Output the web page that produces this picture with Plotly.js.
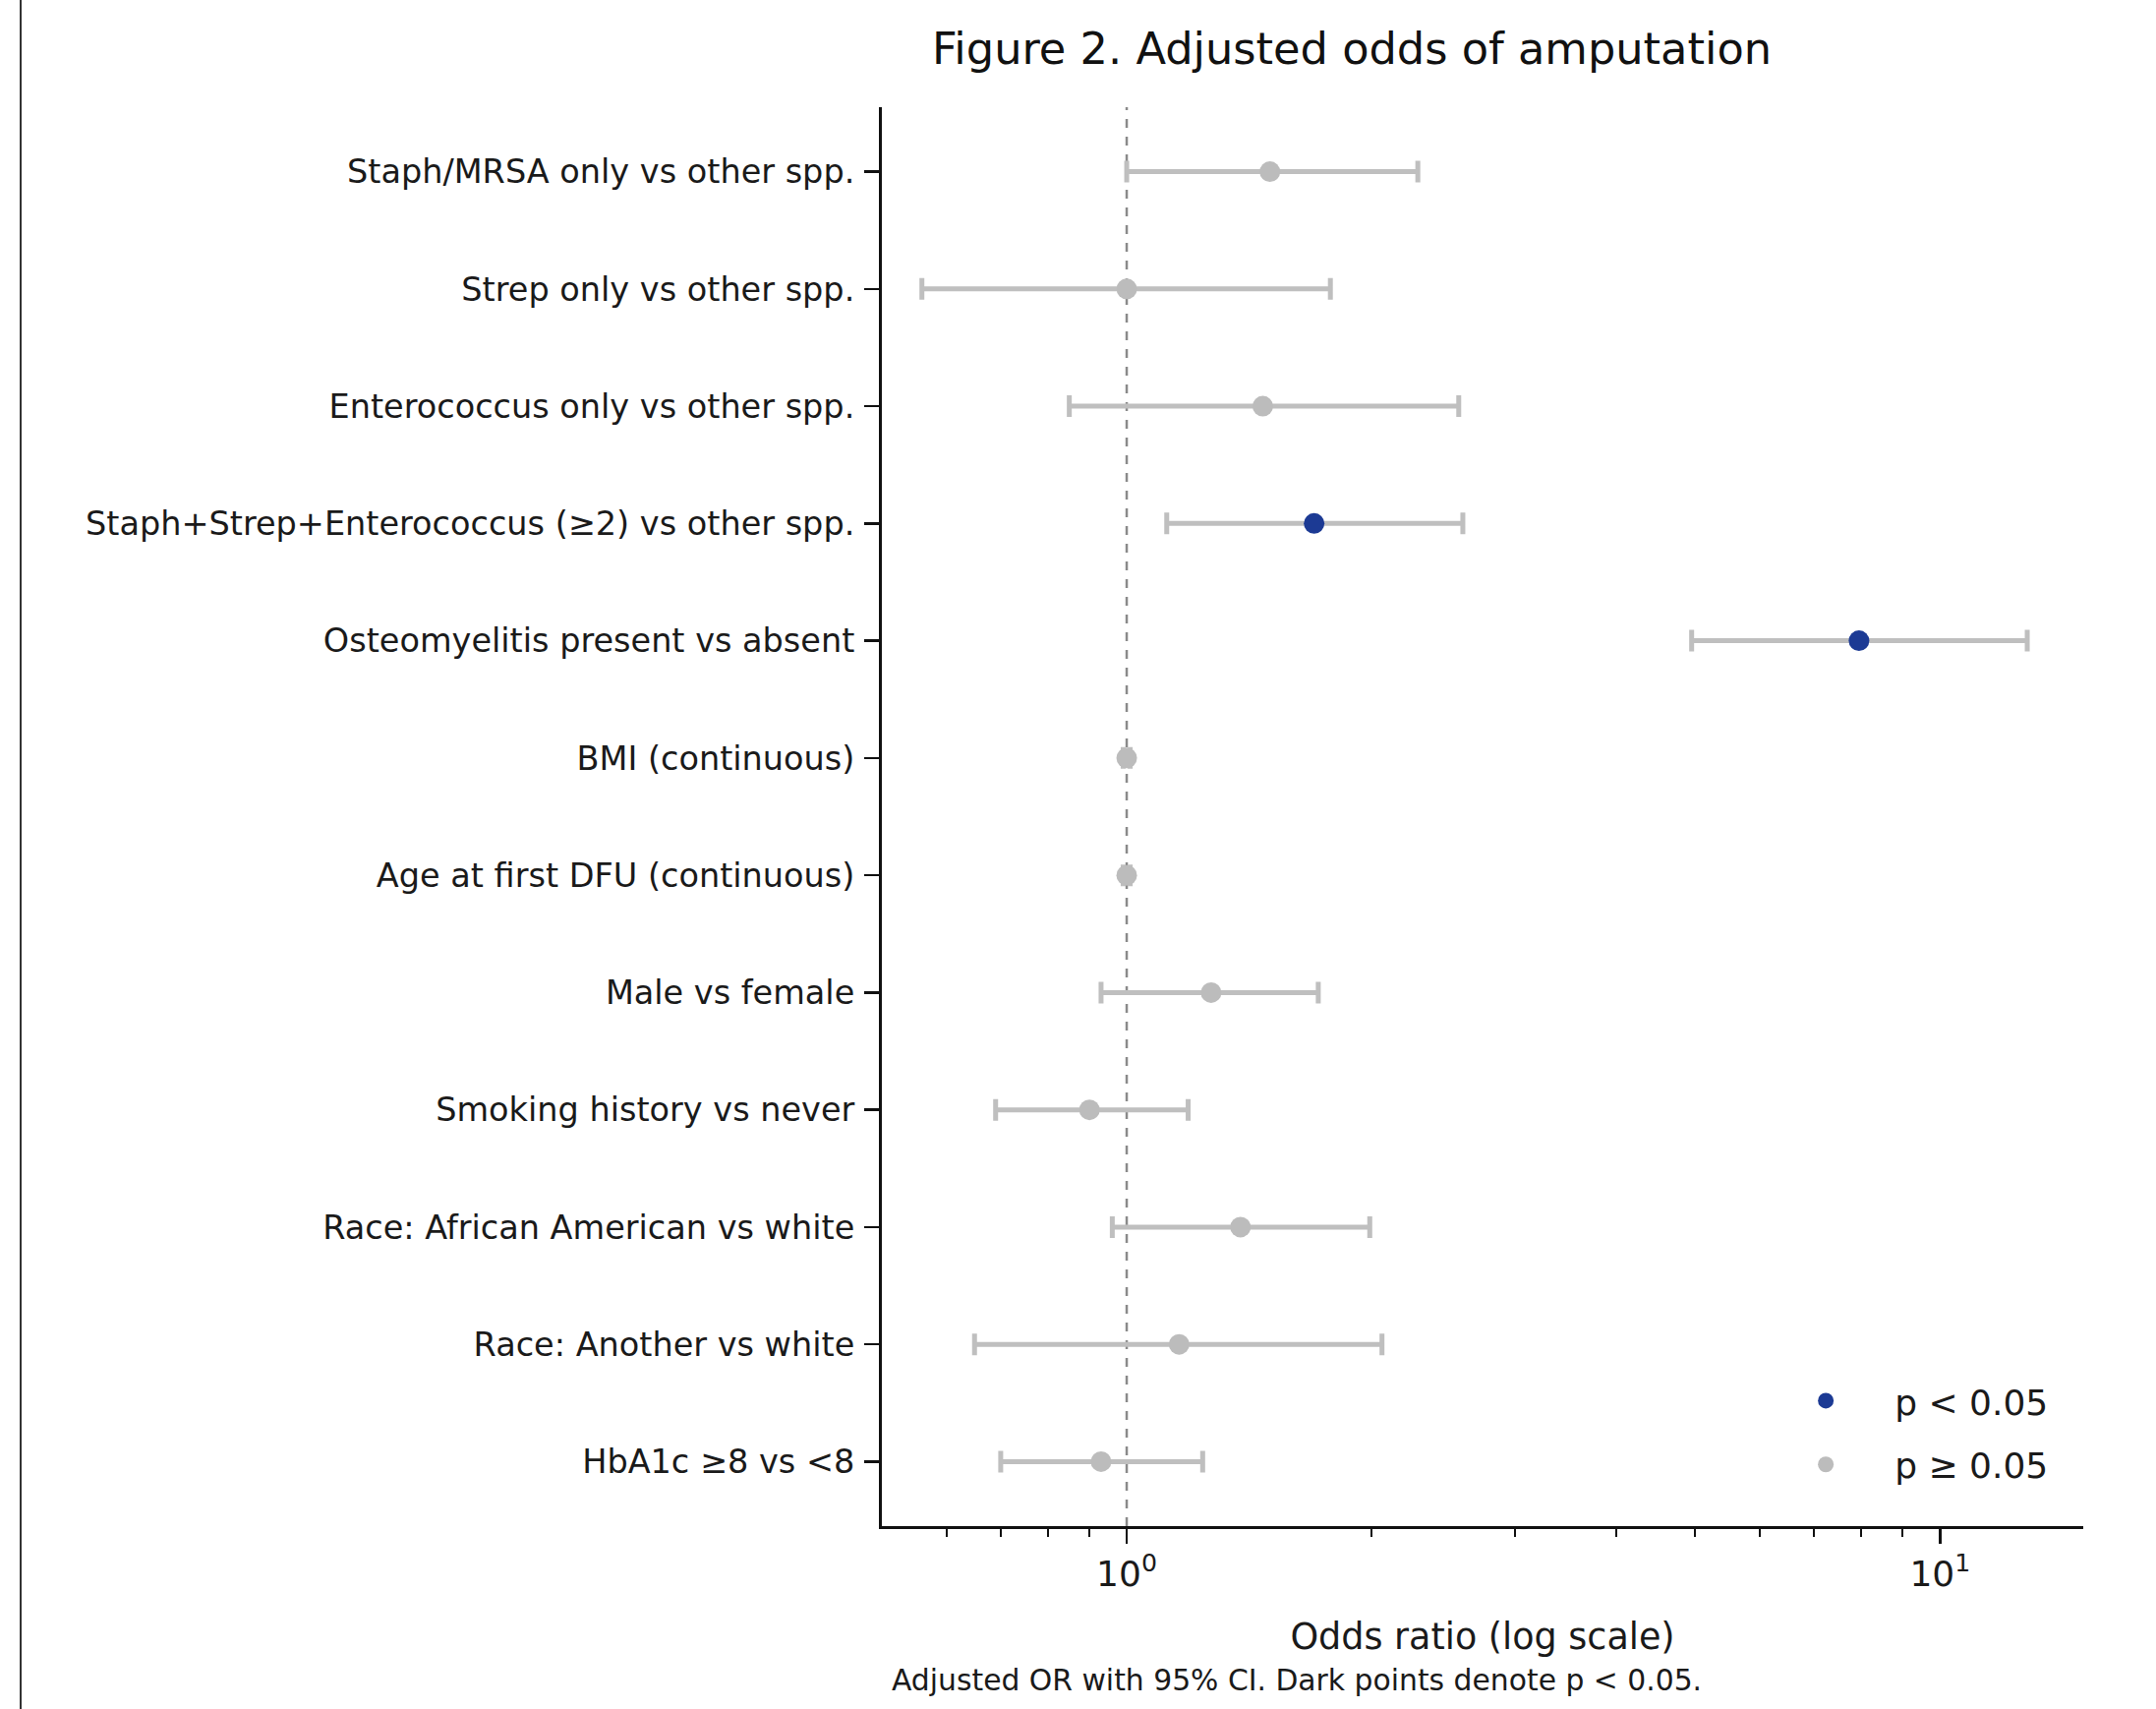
<!DOCTYPE html>
<html>
<head>
<meta charset="utf-8">
<script src="https://cdn.plot.ly/plotly-3.0.1.min.js"></script>
<style>
  html, body { margin: 0; padding: 0; background: #ffffff; }
  #chart { width: 2193px; height: 1738px; position: relative; }
  #frame { position: absolute; left: 20px; top: 0; width: 2px; height: 1738px; background: #333; z-index: 5; }
</style>
</head>
<body>
<div id="frame"></div>
<div id="chart"></div>
<script>
// ---- Data ----
const labels = [
  "Staph/MRSA only vs other spp.",
  "Strep only vs other spp.",
  "Enterococcus only vs other spp.",
  "Staph+Strep+Enterococcus (\u22652) vs other spp.",
  "Osteomyelitis present vs absent",
  "BMI (continuous)",
  "Age at first DFU (continuous)",
  "Male vs female",
  "Smoking history vs never",
  "Race: African American vs white",
  "Race: Another vs white",
  "HbA1c \u22658 vs <8"
];
const oddsRatio = [1.50, 1.00, 1.47, 1.70, 7.95, 1.00, 1.00, 1.27, 0.90, 1.38, 1.16, 0.93];
const ciLower   = [1.00, 0.56, 0.85, 1.12, 4.95, 0.99, 0.99, 0.93, 0.69, 0.96, 0.65, 0.70];
const ciUpper   = [2.28, 1.78, 2.56, 2.59, 12.8, 1.01, 1.01, 1.72, 1.19, 1.99, 2.06, 1.24];
const significant = [false, false, false, true, true, false, false, false, false, false, false, false];

const legendNames = ["p < 0.05", "p \u2265 0.05"];
const xTickVals = [1, 10];
const xTickText = ["10<sup>0</sup>", "10<sup>1</sup>"];
const xMinorVals = [0.6, 0.7, 0.8, 0.9, 2, 3, 4, 5, 6, 7, 8, 9];

// ---- Build traces ----
function subset(flag) {
  const idx = labels.map((_, i) => i).filter(i => significant[i] === flag);
  return {
    y: idx.map(i => labels[i]),
    x: idx.map(i => oddsRatio[i]),
    plus: idx.map(i => ciUpper[i] - oddsRatio[i]),
    minus: idx.map(i => oddsRatio[i] - ciLower[i])
  };
}
const sig = subset(true);
const ns = subset(false);

const errStyle = { type: 'data', symmetric: false, color: '#bfbfbf', thickness: 5, width: 11 };

const traces = [
  {
    type: 'scatter', mode: 'markers', name: legendNames[0], legendgroup: 'a',
    x: sig.x, y: sig.y,
    error_x: Object.assign({}, errStyle, { array: sig.plus, arrayminus: sig.minus }),
    marker: { color: '#1c3a94', size: 21, line: { width: 0 } },
    hoverinfo: 'x+y'
  },
  {
    type: 'scatter', mode: 'markers', name: legendNames[1], legendgroup: 'b',
    x: ns.x, y: ns.y,
    error_x: Object.assign({}, errStyle, { array: ns.plus, arrayminus: ns.minus }),
    marker: { color: '#bcbcbc', size: 21, line: { width: 0 } },
    hoverinfo: 'x+y'
  }
];

const FONT = 'DejaVu Sans, Verdana, sans-serif';

const layout = {
  width: 2193, height: 1738,
  margin: { l: 896.5, r: 74, t: 109, b: 185.5, pad: 0 },
  paper_bgcolor: '#ffffff', plot_bgcolor: '#ffffff',
  font: { family: FONT, color: '#1a1a1a', size: 33.5 },
  title: {
    text: 'Figure 2. Adjusted odds of amputation',
    font: { family: FONT, size: 44.7, color: '#111' },
    x: 0.627, xref: 'container', xanchor: 'center',
    y: 1 - 49 / 1738, yref: 'container', yanchor: 'middle'
  },
  xaxis: {
    type: 'log',
    range: [Math.log10(0.5), Math.log10(15)],
    tickmode: 'array', tickvals: xTickVals, ticktext: xTickText,
    ticks: 'outside', ticklen: 15, tickwidth: 2.5, tickcolor: '#111',
    tickfont: { family: FONT, size: 36, color: '#1a1a1a' },
    showline: true, linecolor: '#111', linewidth: 3,
    showgrid: false, zeroline: false,
    minor: { tickmode: 'array', tickvals: xMinorVals, ticks: 'outside', ticklen: 8, tickwidth: 2, tickcolor: '#111', showgrid: false },
    title: { text: 'Odds ratio (log scale)', font: { family: FONT, size: 36.5, color: '#1a1a1a' }, standoff: 32 }
  },
  yaxis: {
    type: 'category',
    categoryorder: 'array', categoryarray: labels,
    range: [11.55, -0.55],
    ticks: 'outside', ticklen: 15, tickwidth: 2.5, tickcolor: '#111',
    ticklabelstandoff: 3,
    tickfont: { family: FONT, size: 33.5, color: '#1a1a1a' },
    showline: true, linecolor: '#111', linewidth: 3,
    showgrid: false, zeroline: false
  },
  shapes: [
    { type: 'line', xref: 'x', yref: 'paper', x0: 1, x1: 1, y0: 0, y1: 1,
      line: { color: '#8a8a8a', width: 2.5, dash: 'dash' }, layer: 'below' }
  ],
  annotations: [
    { text: 'Adjusted OR with 95% CI. Dark points denote p < 0.05.',
      xref: 'paper', yref: 'paper', x: (1319 - 896.5) / 1222.5, y: -(1709 - 1552.5) / 1443.5,
      xanchor: 'center', yanchor: 'middle', showarrow: false,
      font: { family: FONT, size: 29.8, color: '#1a1a1a' } }
  ],
  showlegend: true,
  legend: {
    x: (1787 - 896.5) / 1222.5, y: (1552.5 - 1395) / 1443.5,
    xanchor: 'left', yanchor: 'top',
    bgcolor: 'rgba(255,255,255,0)', borderwidth: 0,
    font: { family: FONT, size: 36, color: '#1a1a1a' },
    itemwidth: 130, tracegroupgap: 15
  }
};

Plotly.newPlot('chart', traces, layout, { displayModeBar: false, staticPlot: true });
</script>
</body>
</html>
